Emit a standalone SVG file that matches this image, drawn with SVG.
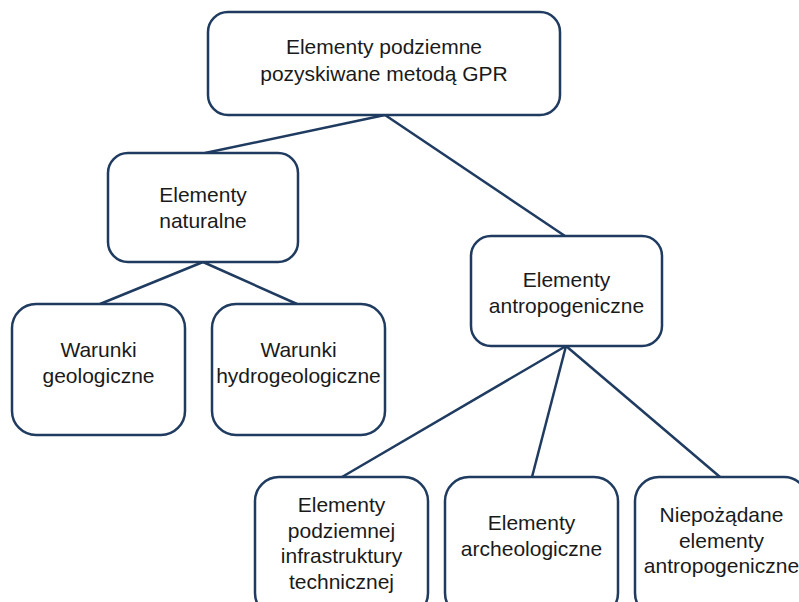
<svg xmlns="http://www.w3.org/2000/svg" width="799" height="602" viewBox="0 0 799 602">
  <style>
    .box { fill: #ffffff; stroke: #1f3b60; stroke-width: 2.5; }
    .lbl { font-family: "Liberation Sans", Arial, sans-serif; font-size: 21px; fill: #1a1a1a; text-anchor: middle; }
    .link { stroke: #1f3b60; stroke-width: 2.5; fill: none; }
  </style>
  <rect width="799" height="602" fill="#ffffff"/>

  <!-- connectors -->
  <g id="connectors">
    <line class="link" x1="385" y1="115" x2="205" y2="153"/>
    <line class="link" x1="385" y1="115" x2="565" y2="236"/>
    <line class="link" x1="203" y1="262" x2="100" y2="304"/>
    <line class="link" x1="203" y1="262" x2="297" y2="304"/>
    <line class="link" x1="566" y1="346" x2="342" y2="477"/>
    <line class="link" x1="566" y1="346" x2="532" y2="477"/>
    <line class="link" x1="566" y1="346" x2="720" y2="477"/>
  </g>

  <!-- root -->
  <g id="root">
    <rect class="box" x="208" y="12" width="352" height="103" rx="20"/>
    <text class="lbl" x="384" y="54">Elementy podziemne</text>
    <text class="lbl" x="384" y="80.5">pozyskiwane metodą GPR</text>
  </g>

  <!-- natural elements -->
  <g id="naturalne">
    <rect class="box" x="108" y="153" width="190" height="109" rx="20"/>
    <text class="lbl" x="203" y="202">Elementy</text>
    <text class="lbl" x="203" y="228">naturalne</text>
  </g>

  <g id="geologiczne">
    <rect class="box" x="12" y="304" width="173" height="131" rx="24"/>
    <text class="lbl" x="98.5" y="357">Warunki</text>
    <text class="lbl" x="98.5" y="383">geologiczne</text>
  </g>

  <g id="hydrogeologiczne">
    <rect class="box" x="212" y="304" width="173" height="131" rx="24"/>
    <text class="lbl" x="298.5" y="357">Warunki</text>
    <text class="lbl" x="298.5" y="383">hydrogeologiczne</text>
  </g>

  <!-- anthropogenic elements -->
  <g id="antropogeniczne">
    <rect class="box" x="471" y="236" width="191" height="110" rx="20"/>
    <text class="lbl" x="566.5" y="287">Elementy</text>
    <text class="lbl" x="566.5" y="313">antropogeniczne</text>
  </g>

  <g id="infrastruktura">
    <rect class="box" x="255" y="477" width="173" height="140" rx="24"/>
    <text class="lbl" x="341.5" y="512">Elementy</text>
    <text class="lbl" x="341.5" y="537.5">podziemnej</text>
    <text class="lbl" x="341.5" y="563">infrastruktury</text>
    <text class="lbl" x="341.5" y="588.5">technicznej</text>
  </g>

  <g id="archeologiczne">
    <rect class="box" x="445" y="477" width="173" height="140" rx="24"/>
    <text class="lbl" x="531.5" y="530">Elementy</text>
    <text class="lbl" x="531.5" y="556">archeologiczne</text>
  </g>

  <g id="niepozadane">
    <rect class="box" x="635" y="477" width="173" height="140" rx="24"/>
    <text class="lbl" x="721.5" y="522">Niepożądane</text>
    <text class="lbl" x="721.5" y="547.5">elementy</text>
    <text class="lbl" x="721.5" y="573">antropogeniczne</text>
  </g>
</svg>
